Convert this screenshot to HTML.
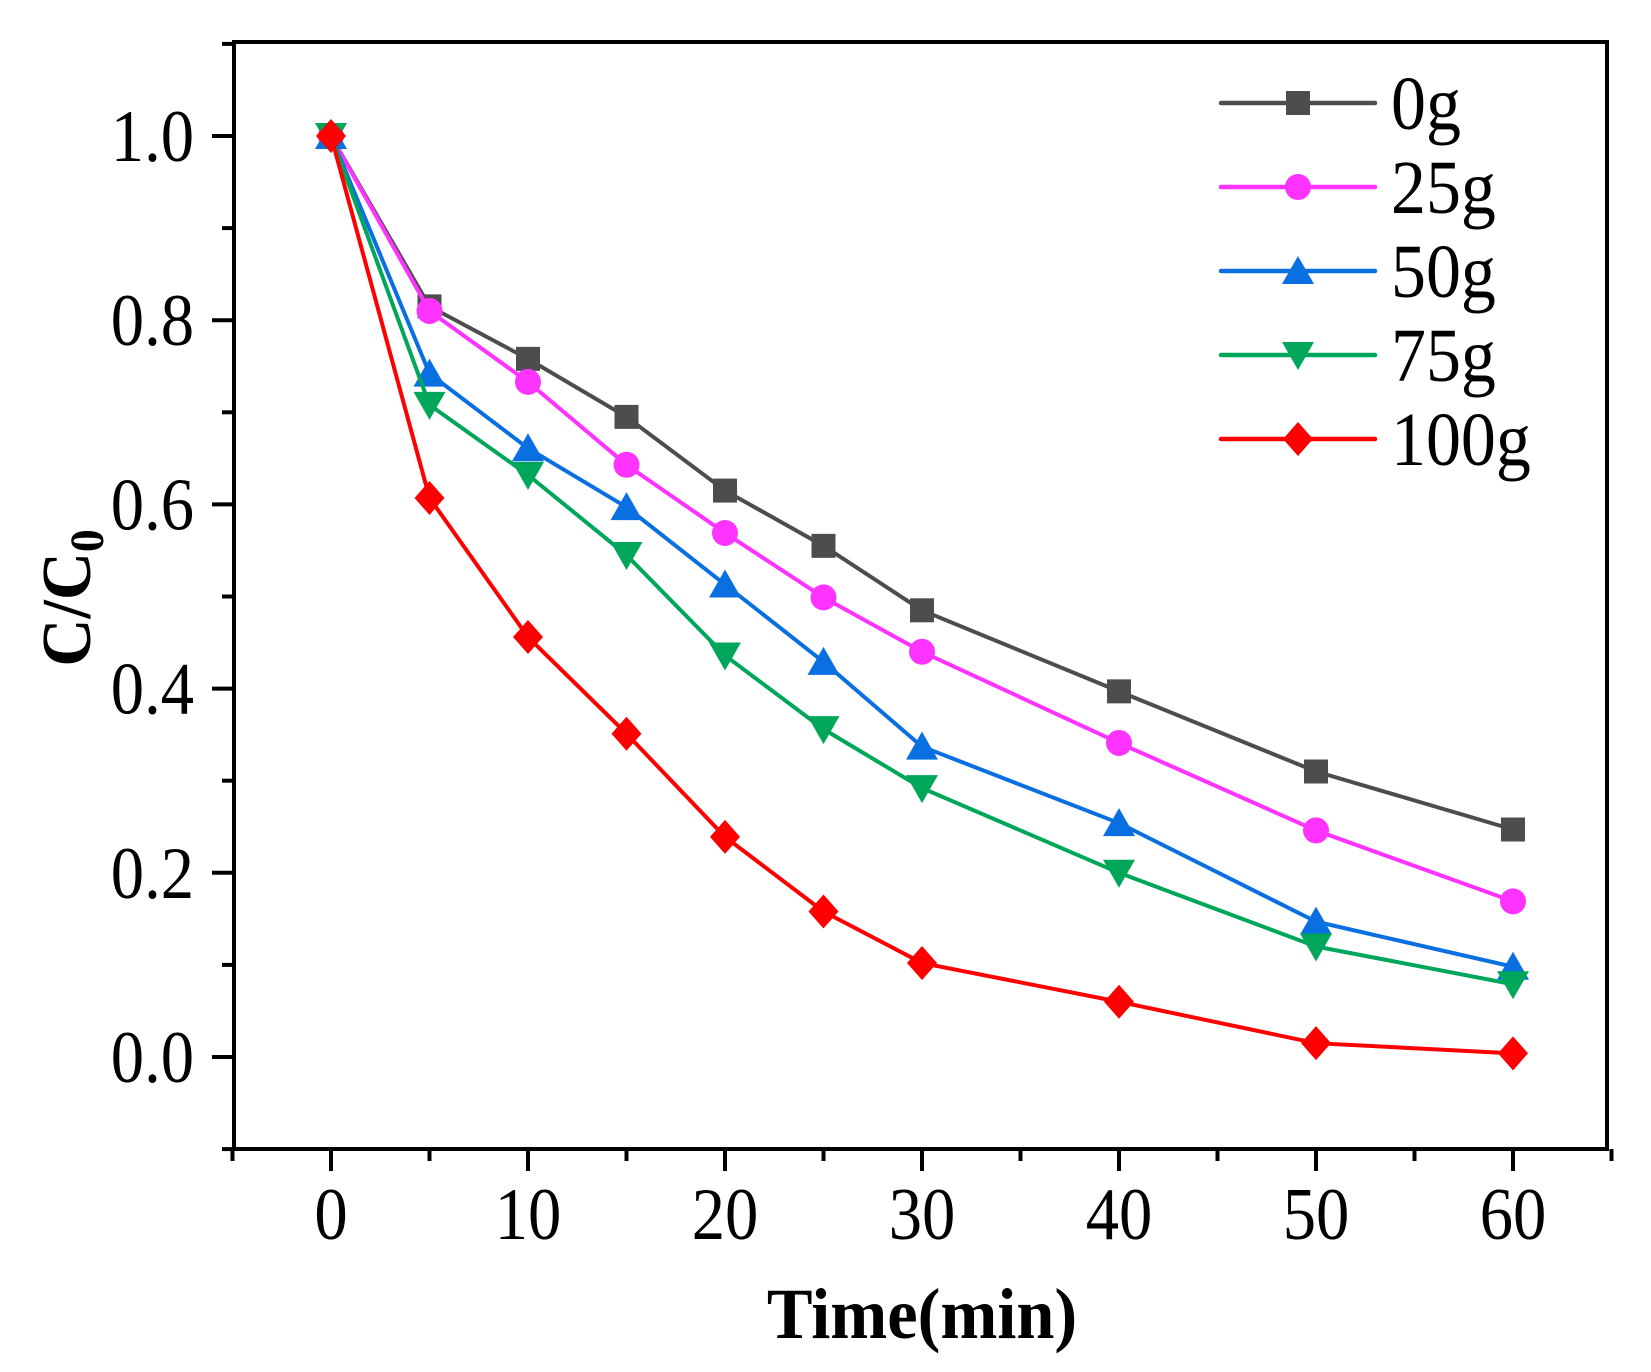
<!DOCTYPE html>
<html><head><meta charset="utf-8"><style>
html,body{margin:0;padding:0;background:#fff;}
svg{display:block;}
text{font-family:"Liberation Serif",serif;}
</style></head><body>
<svg id="s" width="1651" height="1372" viewBox="0 0 1651 1372" xmlns="http://www.w3.org/2000/svg"></svg>
<script>
const s=document.getElementById('s');
const X=t=>331+t*19.7, Y=v=>1057-v*921;
let h='';
h+='<rect x="234" y="42" width="1373" height="1107" fill="none" stroke="#000" stroke-width="4"/>';
function lbl(x,y,txt,anchor,size){return `<text transform="translate(${x},${y}) scale(0.9,1)" font-size="${size}" text-anchor="${anchor}">${txt}</text>`;}
for(let i=-1;i<=11;i++){const y=Y(i/10);const major=i%2==0;
 h+=`<line x1="${234-(major?22:12)}" y1="${y}" x2="234" y2="${y}" stroke="#000" stroke-width="4"/>`;
 if(major&&i>=0&&i<=10) h+=lbl(194,y+25,(i/10).toFixed(1),'end',74);}
for(let t=-5;t<=65;t+=5){const x=X(t);const major=t%10==0;
 h+=`<line x1="${x}" y1="1149" x2="${x}" y2="${1149+(major?22:12)}" stroke="#000" stroke-width="4"/>`;
 if(major&&t>=0&&t<=60) h+=lbl(x,1239,t,'middle',74);}
h+='<text transform="translate(922,1338) scale(0.95,1)" font-size="72" font-weight="bold" text-anchor="middle">Time(min)</text>';
h+='<text transform="translate(90,598) rotate(-90) scale(0.95,1)" font-size="70" font-weight="bold" text-anchor="middle">C/C<tspan font-size="48" dy="13">0</tspan></text>';
const T=[0,5,10,15,20,25,30,40,50,60];
const S=[
 ['0g','#4d4d4d','sq',[1,0.815,0.758,0.695,0.615,0.555,0.485,0.397,0.31,0.247]],
 ['25g','#ff33ff','ci',[1,0.81,0.733,0.643,0.569,0.499,0.44,0.341,0.246,0.169]],
 ['50g','#0a6fe0','up',[1,0.742,0.661,0.597,0.513,0.429,0.337,0.254,0.147,0.098]],
 ['75g','#00a65a','dn',[1,0.708,0.632,0.545,0.436,0.356,0.292,0.2,0.12,0.079]],
 ['100g','#ff0000','di',[1,0.607,0.456,0.351,0.239,0.158,0.102,0.06,0.015,0.004]]];
function mk(type,x,y,c){
 if(type=='sq')return `<rect x="${x-12}" y="${y-12}" width="24" height="24" fill="${c}"/>`;
 if(type=='ci')return `<circle cx="${x}" cy="${y}" r="13" fill="${c}"/>`;
 if(type=='up')return `<polygon points="${x},${y-15} ${x+16},${y+13} ${x-16},${y+13}" fill="${c}"/>`;
 if(type=='dn')return `<polygon points="${x},${y+15} ${x+16},${y-13} ${x-16},${y-13}" fill="${c}"/>`;
 return `<polygon points="${x},${y-17} ${x+15},${y} ${x},${y+17} ${x-15},${y}" fill="${c}"/>`;}
S.forEach((sr,k)=>{const [n,c,m,d]=sr;
 h+=`<polyline fill="none" stroke="${c}" stroke-width="4" stroke-linejoin="round" points="${T.map((t,i)=>X(t)+','+Y(d[i])).join(' ')}"/>`;
 T.forEach((t,i)=>h+=mk(m,X(t),Y(d[i]),c));
 const ly=103+k*84;
 h+=`<line x1="1221" y1="${ly}" x2="1375" y2="${ly}" stroke="${c}" stroke-width="4.5" stroke-linecap="round"/>`;
 h+=mk(m,1298,ly,c);
 h+=`<text transform="translate(1391,${ly+26}) scale(0.92,1)" font-size="76">${n}</text>`;
});
s.innerHTML=h;
</script>
</body></html>
